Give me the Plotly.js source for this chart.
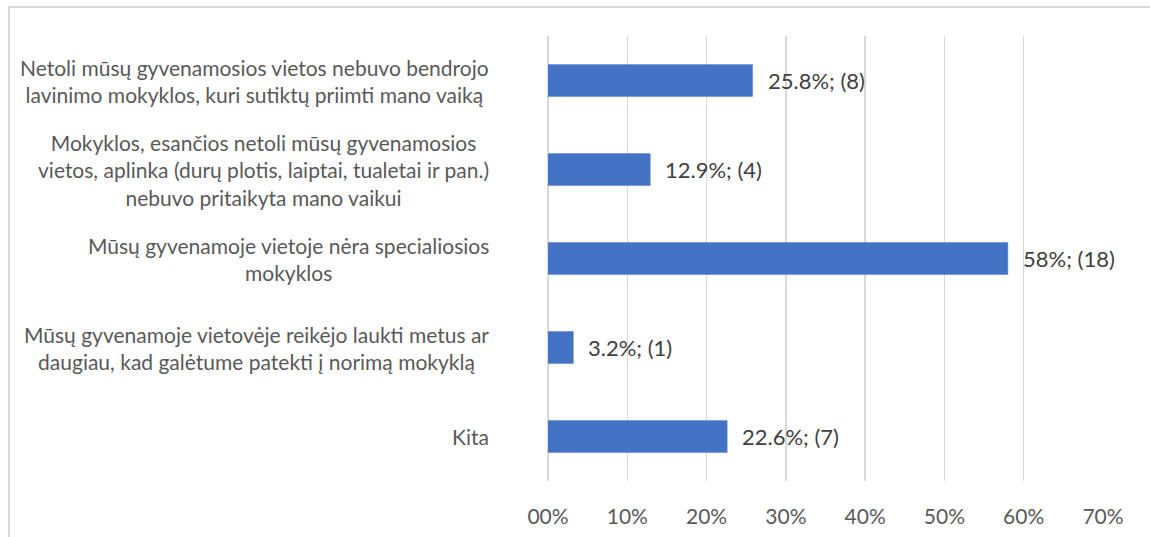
<!DOCTYPE html>
<html>
<head>
<meta charset="utf-8">
<script src="https://cdn.plot.ly/plotly-3.0.1.min.js"></script>
<style>
  html, body { margin: 0; padding: 0; overflow: hidden; background: #fff; }
  #frame { position: absolute; left: 8px; top: 6px; width: 1160px; height: 560px; border: 2px solid #d9d9d9; box-sizing: border-box; }
  #chart { position: absolute; left: 0; top: 0; width: 1150px; height: 537px; }
</style>
</head>
<body>
<div id="frame"></div>
<div id="chart"></div>
<script>
const categories = [
  "Netoli mūsų gyvenamosios vietos nebuvo bendrojo<br>lavinimo mokyklos, kuri sutiktų priimti mano vaiką",
  "Mokyklos, esančios netoli mūsų gyvenamosios<br>vietos, aplinka (durų plotis, laiptai, tualetai ir pan.)<br>nebuvo pritaikyta mano vaikui",
  "Mūsų gyvenamoje vietoje nėra specialiosios<br>mokyklos",
  "Mūsų gyvenamoje vietovėje reikėjo laukti metus ar<br>daugiau, kad galėtume patekti į norimą mokyklą",
  "Kita"
];
const percents = [25.8, 12.9, 58, 3.2, 22.6];
const counts = [8, 4, 18, 1, 7];
const tickValues = [0, 10, 20, 30, 40, 50, 60, 70];
const tickLabels = ["00%", "10%", "20%", "30%", "40%", "50%", "60%", "70%"];

const FONT = "Lato, 'Open Sans', sans-serif";

const trace = {
  type: "bar",
  orientation: "h",
  x: percents,
  y: categories,
  width: 0.36,
  marker: { color: "#4472C4", line: { color: "#5b85d1", width: 0.5 } },
  hoverinfo: "none"
};

const annotations = [];
categories.forEach((c, i) => {
  annotations.push({
    xref: "paper", yref: "y", x: 0, y: c,
    xanchor: "right", yanchor: "middle", xshift: -57,
    align: "center", showarrow: false,
    text: c,
    font: { family: FONT, size: 21, color: "#595959" }
  });
  annotations.push({
    xref: "x", yref: "y", x: percents[i], y: c,
    xanchor: "left", yanchor: "middle", xshift: 13,
    showarrow: false,
    text: percents[i] + "%; (" + counts[i] + ")",
    font: { family: FONT, size: 22, color: "#404040" }
  });
});

const layout = {
  width: 1150, height: 537,
  margin: { l: 548, r: 47, t: 36, b: 56 },
  paper_bgcolor: "rgba(0,0,0,0)",
  plot_bgcolor: "rgba(0,0,0,0)",
  showlegend: false,
  xaxis: {
    range: [0, 70],
    tickvals: tickValues,
    ticktext: tickLabels,
    showgrid: true,
    gridcolor: "#d9d9d9",
    gridwidth: 1.5,
    zeroline: true,
    zerolinecolor: "#d9d9d9",
    zerolinewidth: 1.5,
    showline: false,
    ticks: "",
    ticklabelstandoff: 21,
    tickfont: { family: FONT, size: 21, color: "#595959" },
    fixedrange: true
  },
  yaxis: {
    type: "category",
    autorange: "reversed",
    showticklabels: false,
    showgrid: false,
    zeroline: false,
    showline: false,
    ticks: "",
    fixedrange: true
  },
  annotations: annotations
};

Plotly.newPlot("chart", [trace], layout, { displayModeBar: false, staticPlot: true });
</script>
</body>
</html>
